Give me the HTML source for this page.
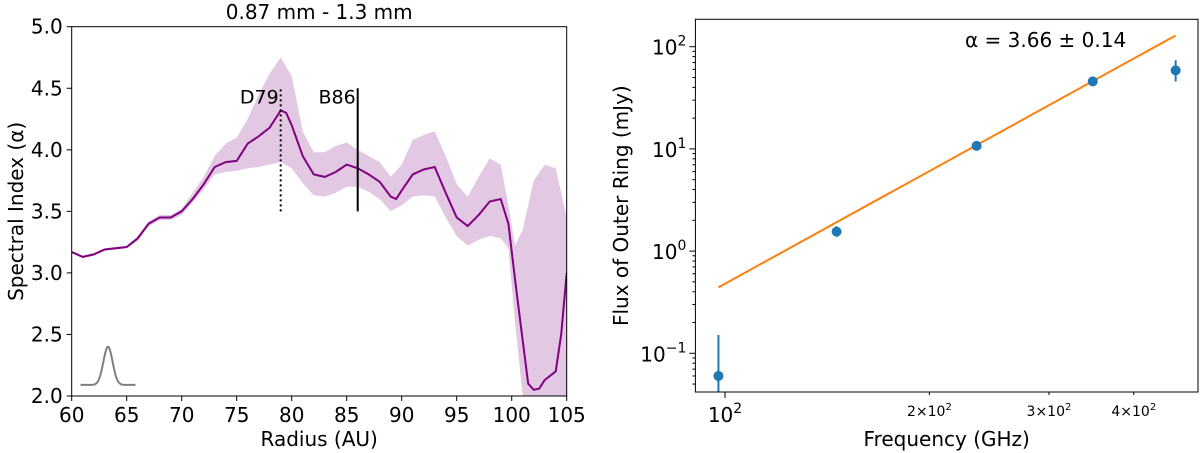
<!DOCTYPE html>
<html><head><meta charset="utf-8">
<style>
html,body{margin:0;padding:0;background:#fff;}
svg{display:block;font-family:"DejaVu Sans","Liberation Sans",sans-serif;}
</style></head>
<body>
<svg id="fig" width="1200" height="453" viewBox="0 0 1200 453" xmlns="http://www.w3.org/2000/svg">
<g id="left"></g>
<g id="right"></g>
</svg>
<script>
// ---------- Left chart data ----------
const radius = [60,61,62,63,64,65,66,67,68,69,70,71,72,73,74,75,76,77,78,78.5,79,79.5,80,81,82,83,84,85,86,87,88,89,89.5,90,91,92,93,94,95,96,97,98,99,99.7,100.3,101,101.5,102,102.5,103,104,104.5,105];
const alphaVals = [3.17,3.13,3.15,3.19,3.20,3.21,3.28,3.40,3.45,3.45,3.50,3.60,3.72,3.86,3.90,3.91,4.05,4.11,4.18,4.25,4.32,4.30,4.20,3.95,3.80,3.78,3.82,3.88,3.85,3.80,3.74,3.62,3.60,3.67,3.80,3.84,3.86,3.65,3.45,3.38,3.47,3.58,3.60,3.40,2.95,2.45,2.10,2.05,2.06,2.13,2.20,2.50,3.00];
const bandR = [60,61,62,63,64,65,66,67,68,69,70,72,73,74,75,76,77,78,79,80,81,82,83,84,85,86,87,88,89,90,91,92,93,94,95,96,97,98,99,99.7,100.3,101,102,103,104,105];
const bandUpper = [3.18,3.14,3.16,3.20,3.21,3.22,3.30,3.42,3.47,3.47,3.52,3.78,3.95,4.05,4.10,4.25,4.45,4.62,4.75,4.60,4.15,3.98,3.98,4.03,4.06,4.00,3.95,3.90,3.78,3.88,4.08,4.12,4.15,3.95,3.72,3.62,3.78,3.93,3.88,3.55,3.22,3.35,3.75,3.88,3.85,3.45];
const bandLower = [3.16,3.12,3.14,3.18,3.19,3.20,3.26,3.38,3.43,3.43,3.47,3.68,3.80,3.82,3.83,3.85,3.86,3.88,3.90,3.85,3.73,3.63,3.62,3.65,3.70,3.70,3.66,3.60,3.50,3.55,3.62,3.63,3.62,3.45,3.30,3.22,3.27,3.30,3.28,3.20,2.60,2.0,2.0,2.0,2.0,2.0];
const xTicksL = [60,65,70,75,80,85,90,95,100,105];
const yTicksL = [2.0,2.5,3.0,3.5,4.0,4.5,5.0];
const markerR = [79,86];
const markerLabels = ["D79","B86"];
const beamCenter = 63.3, beamSigma = 0.42, beamBase = 2.09, beamPeak = 2.40;

// ---------- Right chart data ----------
const freq = [97.8,146,234.7,348,461];
const flux = [0.06,1.55,10.7,45.8,58.7];
const fluxErrHi = [0.151,1.75,11.3,48.5,73.6];
const fluxErrLo = [0.03,1.38,10.1,43.3,45.8];
const fitAlpha = 3.66;
const fitAnchorF = 97.8, fitAnchorFlux = 0.442;
const fitRange = [97.8,461];
const xMajorR = [100];
const xMinorLabeled = [200,300,400];
const yMajorR = [0.1,1,10,100];

const NS="http://www.w3.org/2000/svg";
function mk(parent,tag,attrs){const e=document.createElementNS(NS,tag);for(const k in attrs)e.setAttribute(k,attrs[k]);parent.appendChild(e);return e;}
const FS=20;

// ===== Left =====
(function(){
const g=document.getElementById('left');
const X0=71.7,X1=566.7,Y0=26.7,Y1=396;
const xs=r=>X0+(r-60)/45*(X1-X0);
const ys=a=>Y1-(a-2)/3*(Y1-Y0);
const clip=mk(g,'clipPath',{id:'clipL'});
mk(clip,'rect',{x:X0,y:Y0,width:X1-X0,height:Y1-Y0});
let d='';
bandR.forEach((r,i)=>{d+=(i?'L':'M')+xs(r).toFixed(1)+','+ys(bandUpper[i]).toFixed(1);});
for(let i=bandR.length-1;i>=0;i--)d+='L'+xs(bandR[i]).toFixed(1)+','+ys(bandLower[i]).toFixed(1);
let e=mk(g,'path',{d:d+'Z',fill:'#e3c8e3','clip-path':'url(#clipL)'});

d='';radius.forEach((r,i)=>{d+=(i?'L':'M')+xs(r).toFixed(1)+','+ys(alphaVals[i]).toFixed(1);});
e=mk(g,'path',{d:d,fill:'none',stroke:'#800080','stroke-width':2,'clip-path':'url(#clipL)'});

d='';for(let r=60.8;r<=65.8;r+=0.05){const a=beamBase+(beamPeak-beamBase)*Math.exp(-((r-beamCenter)**2)/(2*beamSigma**2));d+=(d?'L':'M')+xs(r).toFixed(1)+','+ys(a).toFixed(1);}
e=mk(g,'path',{d:d,fill:'none',stroke:'#808080','stroke-width':2});

markerR.forEach((r,i)=>{
 const l=mk(g,'line',{x1:xs(r),x2:xs(r),y1:ys(3.5),y2:ys(4.5),stroke:'#000','stroke-width':2});
 if(i===0)l.setAttribute('stroke-dasharray','2,3');
 
 const t=mk(g,'text',{x:xs(r)-2,y:ys(4.5)+15,'text-anchor':'end','font-size':19});t.textContent=markerLabels[i];
 
});
e=mk(g,'rect',{x:X0,y:Y0,width:X1-X0,height:Y1-Y0,fill:'none',stroke:'#000','stroke-width':1});

xTicksL.forEach(v=>{mk(g,'line',{x1:xs(v),x2:xs(v),y1:Y1,y2:Y1+5,stroke:'#000'});
 const t=mk(g,'text',{x:xs(v),y:Y1+26,'text-anchor':'middle','font-size':FS});t.textContent=v;
 });
yTicksL.forEach(v=>{mk(g,'line',{x1:X0-5,x2:X0,y1:ys(v),y2:ys(v),stroke:'#000'});
 const t=mk(g,'text',{x:X0-9,y:ys(v)+7,'text-anchor':'end','font-size':FS});t.textContent=v.toFixed(1);
 });
let t=mk(g,'text',{x:(X0+X1)/2,y:446,'text-anchor':'middle','font-size':FS});t.textContent='Radius (AU)';

t=mk(g,'text',{x:0,y:0,'text-anchor':'middle','font-size':FS,transform:'translate(23,'+((Y0+Y1)/2)+') rotate(-90)'});t.textContent='Spectral Index (α)';

t=mk(g,'text',{x:(X0+X1)/2,y:19,'text-anchor':'middle','font-size':FS});t.textContent='0.87 mm - 1.3 mm';

})();

// ===== Right =====
(function(){
const g=document.getElementById('right');
const X0=695.4,X1=1198,Y0=19.3,Y1=392;
const xs=f=>725+679*Math.log10(f/100);
const ys=v=>46.7+102.2*(2-Math.log10(v));
const clip=mk(g,'clipPath',{id:'clipR'});
mk(clip,'rect',{x:X0,y:Y0,width:X1-X0,height:Y1-Y0});
const fitF=f=>fitAnchorFlux*Math.pow(f/fitAnchorF,fitAlpha);
let e=mk(g,'line',{x1:xs(fitRange[0]),y1:ys(fitF(fitRange[0])),x2:xs(fitRange[1]),y2:ys(fitF(fitRange[1])),stroke:'#ff7f0e','stroke-width':2});

freq.forEach((f,i)=>{
 const eb=mk(g,'line',{x1:xs(f),x2:xs(f),y1:ys(fluxErrHi[i]),y2:ys(fluxErrLo[i]),stroke:'#1f77b4','stroke-width':2,'clip-path':'url(#clipR)'});
 
 const c=mk(g,'circle',{cx:xs(f),cy:ys(flux[i]),r:5,fill:'#1f77b4'});
 
});
e=mk(g,'rect',{x:X0,y:Y0,width:X1-X0,height:Y1-Y0,fill:'none',stroke:'#000','stroke-width':1});

yMajorR.forEach(v=>{mk(g,'line',{x1:X0-6,x2:X0,y1:ys(v),y2:ys(v),stroke:'#000'});
 const exp=Math.round(Math.log10(v));
 const t=mk(g,'text',{x:X0-9,y:ys(v)+8,'text-anchor':'end','font-size':FS});
 t.innerHTML='10<tspan dy="-9" font-size="14">'+(exp<0?'−'+(-exp):exp)+'</tspan>';
 });
for(let dec=-2;dec<=2;dec++)for(let m=2;m<=9;m++){const v=m*Math.pow(10,dec);const y=ys(v);if(y>Y0&&y<Y1)mk(g,'line',{x1:X0-3,x2:X0,y1:y,y2:y,stroke:'#000'});}
xMajorR.forEach(v=>{mk(g,'line',{x1:xs(v),x2:xs(v),y1:Y1,y2:Y1+6,stroke:'#000'});
 const t=mk(g,'text',{x:xs(v),y:Y1+30,'text-anchor':'middle','font-size':FS});t.innerHTML='10<tspan dy="-9" font-size="14">2</tspan>';
 });
xMinorLabeled.forEach(v=>{mk(g,'line',{x1:xs(v),x2:xs(v),y1:Y1,y2:Y1+3,stroke:'#000'});
 const t=mk(g,'text',{x:xs(v),y:Y1+24,'text-anchor':'middle','font-size':14});t.innerHTML=(v/100)+'×10<tspan dy="-6" font-size="10">2</tspan>';
 });
let t=mk(g,'text',{x:(X0+X1)/2,y:446,'text-anchor':'middle','font-size':FS});t.textContent='Frequency (GHz)';

t=mk(g,'text',{x:0,y:0,'text-anchor':'middle','font-size':FS,transform:'translate(628,'+((Y0+Y1)/2)+') rotate(-90)'});t.textContent='Flux of Outer Ring (mJy)';

t=mk(g,'text',{x:965,y:47,'font-size':FS});t.textContent='α = 3.66 ± 0.14';

})();
</script>
</body></html>
